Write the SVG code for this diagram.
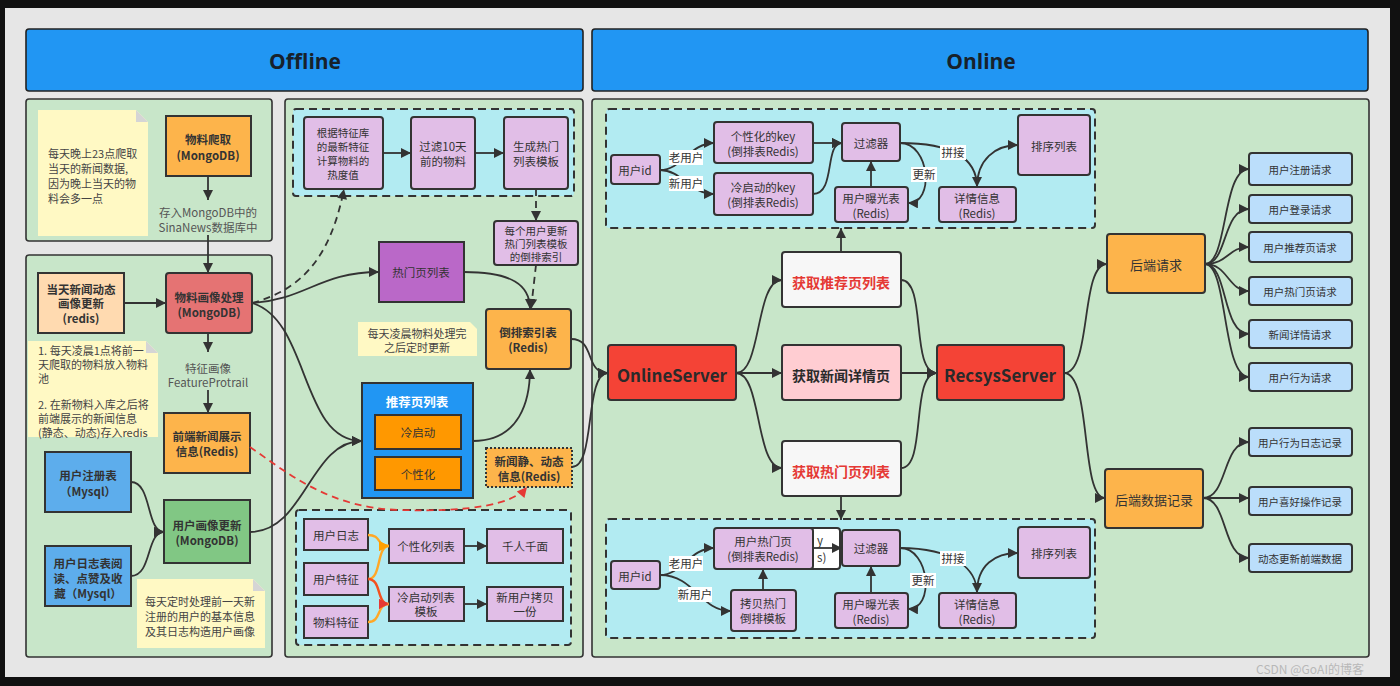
<svg xmlns="http://www.w3.org/2000/svg" width="1400" height="686" viewBox="0 0 1400 686">
<style>
text{font-family:"Noto Sans CJK SC","Liberation Sans",sans-serif;fill:#333;font-size:11.5px;text-anchor:middle;dominant-baseline:central}
.b{font-weight:bold}
.l{text-anchor:start}
.g{fill:#555}
.n{fill:#444;font-size:11px}
.panel{fill:#c8e6c9;stroke:#333;stroke-width:1.6}
.box{stroke:#333;stroke-width:2}
.or{fill:#fdb44b}
.pu{fill:#e1bee7}
.bl{fill:#bbdefb}
.dash{fill:#b2ebf2;stroke:#333;stroke-width:2;stroke-dasharray:8 5}
.note{fill:#fff9c4}
.fold{fill:#d5d5d5}
.c{fill:none;stroke:#333;stroke-width:1.8}
.d{stroke-dasharray:7 5}
.red{stroke:#e53935}
.org{stroke:#ffa726;stroke-width:2.4}
.rorg{stroke:#f4511e;stroke-width:2.4}
.lab{fill:#fff}
.s{font-size:10.5px}
</style>
<defs>
<marker id="a" viewBox="0 0 10 10" refX="10" refY="5" markerWidth="12" markerHeight="10" markerUnits="userSpaceOnUse" orient="auto"><path d="M0,0L10,5L0,10z" fill="#333"/></marker>
<marker id="ar" viewBox="0 0 10 10" refX="10" refY="5" markerWidth="12" markerHeight="10" markerUnits="userSpaceOnUse" orient="auto"><path d="M0,0L10,5L0,10z" fill="#e53935"/></marker>
<marker id="ao" viewBox="0 0 10 10" refX="10" refY="5" markerWidth="12" markerHeight="10" markerUnits="userSpaceOnUse" orient="auto"><path d="M0,0L10,5L0,10z" fill="#ffa000"/></marker>
</defs>
<rect width="1400" height="686" fill="#111"/>
<rect x="5" y="8" width="1385" height="669" fill="#e6e6e6"/>

<g id="headers">
<rect x="26" y="29" width="557" height="62" rx="3" fill="#2196f3" stroke="#222" stroke-width="1.6"/>
<text x="305" y="61" class="b" style="font-family:'Open Sans','Liberation Sans',sans-serif;font-size:21px;fill:#17212b">Offline</text>
<rect x="592" y="29" width="776" height="62" rx="3" fill="#2196f3" stroke="#222" stroke-width="1.6"/>
<text x="981" y="61" class="b" style="font-family:'Open Sans','Liberation Sans',sans-serif;font-size:21px;fill:#17212b">Online</text>
</g>

<g id="panels">
<rect class="panel" x="26" y="99" width="246" height="142" rx="3"/>
<rect class="panel" x="26" y="255" width="246" height="402" rx="3"/>
<rect class="panel" x="285" y="99" width="298" height="558" rx="3"/>
<rect class="panel" x="592" y="99" width="777" height="558" rx="3"/>
<rect class="dash" x="293" y="109" width="281" height="87" rx="3"/>
<rect class="dash" x="296" y="510" width="275" height="135" rx="3"/>
<rect class="dash" x="606" y="109" width="489" height="119" rx="3"/>
<rect class="dash" x="606" y="519" width="489" height="119" rx="3"/>
</g>

<g id="note1">
<path class="note" d="M38,110H136L148,122V236H38z"/>
<path class="fold" d="M136,110L148,122H136z"/>
<text class="n l" x="48" y="153">每天晚上23点爬取</text>
<text class="n l" x="48" y="168">当天的新闻数据,</text>
<text class="n l" x="48" y="183">因为晚上当天的物</text>
<text class="n l" x="48" y="198">料会多一点</text>
</g>
<g id="n-crawl"><rect class="box or" x="166" y="116" width="85" height="60"/><text class="b" x="208" y="139">物料爬取</text><text class="b" x="208" y="155">(MongoDB)</text></g>
<g id="t-store"><text class="g" x="208" y="212">存入MongoDB中的</text><text class="g" x="208" y="227">SinaNews数据库中</text></g>

<g id="n-daily"><rect class="box" fill="#ffdab0" x="38" y="273" width="86" height="60"/><text class="b" x="81" y="289">当天新闻动态</text><text class="b" x="81" y="303">画像更新</text><text class="b" x="81" y="318">(redis)</text></g>
<g id="n-proc"><rect class="box" fill="#e57373" x="166" y="273" width="86" height="60" rx="3"/><text class="b" x="209" y="297">物料画像处理</text><text class="b" x="209" y="312">(MongoDB)</text></g>
<g id="note2">
<path class="note" d="M28,341H146L158,353V437H28z"/>
<path class="fold" d="M146,341L158,353H146z"/>
<text class="n l" x="38" y="350">1. 每天凌晨1点将前一</text>
<text class="n l" x="38" y="364">天爬取的物料放入物料</text>
<text class="n l" x="38" y="378">池</text>
<text class="n l" x="38" y="404">2. 在新物料入库之后将</text>
<text class="n l" x="38" y="418">前端展示的新闻信息</text>
<text class="n l" x="38" y="432">(静态、动态)存入redis</text>
</g>
<g id="t-feat"><text class="g" x="208" y="368">特征画像</text><text class="g" x="208" y="382">FeatureProtrail</text></g>
<g id="n-front"><rect class="box or" x="164" y="413" width="86" height="60"/><text class="b" x="207" y="436">前端新闻展示</text><text class="b" x="207" y="451">信息(Redis)</text></g>
<g id="n-reg"><rect class="box" fill="#5dadec" x="45" y="452" width="86" height="60"/><text class="b" x="88" y="475">用户注册表</text><text class="b" x="88" y="491">（Mysql）</text></g>
<g id="n-log"><rect class="box" fill="#5dadec" x="45" y="546" width="86" height="60"/><text class="b" x="88" y="563">用户日志表阅</text><text class="b" x="88" y="578">读、点赞及收</text><text class="b" x="88" y="593">藏（Mysql）</text></g>
<g id="n-user"><rect class="box" fill="#81c784" x="164" y="500" width="86" height="63"/><text class="b" x="207" y="525">用户画像更新</text><text class="b" x="207" y="540">(MongoDB)</text></g>
<g id="note3">
<path class="note" d="M137,579H253L265,591V648H137z"/>
<path class="fold" d="M253,579L265,591H253z"/>
<text class="n l" x="145" y="601">每天定时处理前一天新</text>
<text class="n l" x="145" y="616">注册的用户的基本信息</text>
<text class="n l" x="145" y="631">及其日志构造用户画像</text>
</g>

<g id="n-heat"><rect class="box pu" x="304" y="117" width="79" height="72" rx="3"/><text class="s" x="343" y="132">根据特征库</text><text class="s" x="343" y="146">的最新特征</text><text class="s" x="343" y="160">计算物料的</text><text class="s" x="343" y="174">热度值</text></g>
<g id="n-filter10"><rect class="box pu" x="411" y="117" width="64" height="72" rx="3"/><text x="443" y="146">过滤10天</text><text x="443" y="161">前的物料</text></g>
<g id="n-gen"><rect class="box pu" x="504" y="117" width="64" height="72" rx="3"/><text x="536" y="146">生成热门</text><text x="536" y="161">列表模板</text></g>
<g id="n-inv"><rect class="box pu" x="494" y="221" width="84" height="44" rx="3"/><text class="s" x="536" y="230">每个用户更新</text><text class="s" x="536" y="243">热门列表模板</text><text class="s" x="536" y="256">的倒排索引</text></g>
<g id="n-hot"><rect class="box" fill="#ba68c8" x="379" y="242" width="85" height="60"/><text x="421" y="272">热门页列表</text></g>
<g id="note4"><path class="note" d="M358,322H470L477,329V356H358z"/><text class="n" x="417" y="333">每天凌晨物料处理完</text><text class="n" x="417" y="347">之后定时更新</text></g>
<g id="n-index"><rect class="box or" x="486" y="309" width="85" height="60" rx="3"/><text class="b" x="528" y="332">倒排索引表</text><text class="b" x="528" y="347">(Redis)</text></g>
<g id="n-rec"><rect class="box" fill="#2196f3" x="362" y="383" width="111" height="115"/><text class="b" x="417" y="401" style="fill:#fff;font-size:12.5px">推荐页列表</text>
<rect class="box" fill="#ff9800" x="375" y="415" width="86" height="34"/><text x="418" y="432">冷启动</text>
<rect class="box" fill="#ff9800" x="375" y="457" width="86" height="33"/><text x="418" y="474">个性化</text></g>
<g id="n-news"><rect fill="#fdb44b" stroke="#333" stroke-width="2" stroke-dasharray="2 2" x="486" y="448" width="86" height="39"/><text class="b" x="529" y="461">新闻静、动态</text><text class="b" x="529" y="476">信息(Redis)</text></g>
<g id="n-ulog"><rect class="box pu" x="304" y="519" width="64" height="31"/><text x="336" y="535">用户日志</text></g>
<g id="n-ufeat"><rect class="box pu" x="304" y="563" width="64" height="32"/><text x="336" y="579">用户特征</text></g>
<g id="n-ifeat"><rect class="box pu" x="304" y="606" width="64" height="32"/><text x="336" y="622">物料特征</text></g>
<g id="n-plist"><rect class="box pu" x="389" y="529" width="75" height="34"/><text x="426" y="546">个性化列表</text></g>
<g id="n-qr"><rect class="box pu" x="487" y="529" width="76" height="34"/><text x="525" y="546">千人千面</text></g>
<g id="n-clist"><rect class="box pu" x="389" y="587" width="75" height="34"/><text x="426" y="597">冷启动列表</text><text x="426" y="611">模板</text></g>
<g id="n-copy"><rect class="box pu" x="487" y="587" width="76" height="34"/><text x="525" y="597">新用户拷贝</text><text x="525" y="611">一份</text></g>

<g id="n-uid1"><rect class="box pu" x="611" y="155" width="49" height="29" rx="3"/><text x="635" y="170">用户id</text></g>
<g id="n-pkey"><rect class="box pu" x="714" y="122" width="99" height="41" rx="3"/><text x="763" y="136">个性化的key</text><text x="763" y="151">(倒排表Redis)</text></g>
<g id="n-ckey"><rect class="box pu" x="714" y="173" width="99" height="42" rx="3"/><text x="763" y="187">冷启动的key</text><text x="763" y="202">(倒排表Redis)</text></g>
<g id="n-flt1"><rect class="box pu" x="842" y="123" width="58" height="38" rx="3"/><text x="871" y="143">过滤器</text></g>
<g id="n-exp1"><rect class="box pu" x="835" y="187" width="73" height="35" rx="3"/><text x="871" y="198">用户曝光表</text><text x="871" y="213">(Redis)</text></g>
<g id="n-det1"><rect class="box pu" x="939" y="187" width="77" height="35" rx="3"/><text x="977" y="198">详情信息</text><text x="977" y="213">(Redis)</text></g>
<g id="n-sort1"><rect class="box pu" x="1018" y="115" width="72" height="60" rx="3"/><text x="1054" y="146">排序列表</text></g>

<g id="n-online"><rect class="box" fill="#f44336" x="608" y="345" width="128" height="55" rx="3"/><text class="b" x="672" y="374" style="font-size:17px;fill:#2a2a2a">OnlineServer</text></g>
<g id="n-getrec"><rect class="box" fill="#f7f7f7" x="782" y="252" width="119" height="55" rx="3"/><text class="b" x="841" y="282" style="font-size:14px;fill:#e53935">获取推荐页列表</text></g>
<g id="n-getdet"><rect class="box" fill="#ffcdd2" x="782" y="345" width="119" height="55" rx="3"/><text class="b" x="841" y="375" style="font-size:14px;fill:#2a2a2a">获取新闻详情页</text></g>
<g id="n-gethot"><rect class="box" fill="#f7f7f7" x="782" y="441" width="119" height="55" rx="3"/><text class="b" x="841" y="471" style="font-size:14px;fill:#e53935">获取热门页列表</text></g>
<g id="n-recsys"><rect class="box" fill="#f44336" x="937" y="345" width="127" height="55" rx="3"/><text class="b" x="1000" y="374" style="font-size:17px;fill:#2a2a2a">RecsysServer</text></g>

<g id="n-uid2"><rect class="box pu" x="611" y="561" width="49" height="28" rx="3"/><text x="635" y="576">用户id</text></g>
<g id="n-ghost"><rect class="box" fill="#fff" x="745" y="528" width="95" height="41" rx="3"/><text class="l" x="817" y="540">y</text><text class="l" x="817" y="557">s)</text></g>
<g id="n-uhot"><rect class="box pu" x="714" y="528" width="99" height="41" rx="3"/><text x="763" y="541">用户热门页</text><text x="763" y="556">(倒排表Redis)</text></g>
<g id="n-copyhot"><rect class="box pu" x="731" y="590" width="65" height="41" rx="3"/><text x="763" y="603">拷贝热门</text><text x="763" y="618">倒排模板</text></g>
<g id="n-flt2"><rect class="box pu" x="842" y="530" width="58" height="36" rx="3"/><text x="871" y="548">过滤器</text></g>
<g id="n-exp2"><rect class="box pu" x="835" y="593" width="73" height="35" rx="3"/><text x="871" y="604">用户曝光表</text><text x="871" y="619">(Redis)</text></g>
<g id="n-det2"><rect class="box pu" x="939" y="593" width="77" height="35" rx="3"/><text x="977" y="604">详情信息</text><text x="977" y="619">(Redis)</text></g>
<g id="n-sort2"><rect class="box pu" x="1018" y="527" width="72" height="51" rx="3"/><text x="1054" y="553">排序列表</text></g>

<g id="n-backreq"><rect class="box or" x="1107" y="234" width="98" height="59" rx="3"/><text x="1156" y="264" style="font-size:13px">后端请求</text></g>
<g id="n-backrec"><rect class="box or" x="1105" y="469" width="98" height="59" rx="3"/><text x="1154" y="499" style="font-size:13px">后端数据记录</text></g>
<g id="right-boxes">
<g id="r1"><rect class="box bl" x="1249" y="153" width="103" height="32" rx="3"/><text class="s" x="1300" y="169">用户注册请求</text></g>
<g id="r2"><rect class="box bl" x="1249" y="195" width="103" height="28" rx="3"/><text class="s" x="1300" y="209">用户登录请求</text></g>
<g id="r3"><rect class="box bl" x="1249" y="232" width="103" height="30" rx="3"/><text class="s" x="1300" y="247">用户推荐页请求</text></g>
<g id="r4"><rect class="box bl" x="1249" y="277" width="103" height="28" rx="3"/><text class="s" x="1300" y="291">用户热门页请求</text></g>
<g id="r5"><rect class="box bl" x="1249" y="320" width="103" height="28" rx="3"/><text class="s" x="1300" y="334">新闻详情请求</text></g>
<g id="r6"><rect class="box bl" x="1249" y="363" width="103" height="28" rx="3"/><text class="s" x="1300" y="377">用户行为请求</text></g>
<g id="r7"><rect class="box bl" x="1249" y="428" width="103" height="28" rx="3"/><text class="s" x="1300" y="442">用户行为日志记录</text></g>
<g id="r8"><rect class="box bl" x="1249" y="487" width="103" height="28" rx="3"/><text class="s" x="1300" y="501">用户喜好操作记录</text></g>
<g id="r9"><rect class="box bl" x="1249" y="544" width="103" height="28" rx="3"/><text class="s" x="1300" y="558">动态更新前端数据</text></g>
</g>

<g id="connectors">
<path class="c" d="M208,176V200" marker-end="url(#a)"/>
<path class="c" d="M208,235V273" marker-end="url(#a)"/>
<path class="c" d="M124,303H166" marker-end="url(#a)"/>
<path class="c" d="M208,333V352" marker-end="url(#a)"/>
<path class="c" d="M208,390V413" marker-end="url(#a)"/>
<path class="c" d="M131,482C152,482 146,532 164,532" marker-end="url(#a)"/>
<path class="c" d="M131,576C152,576 146,532 164,532" marker-end="url(#a)"/>
<path class="c" d="M252,303C305,300 320,272 379,272" marker-end="url(#a)"/>
<path class="c d" d="M252,303C300,290 330,260 344,189" marker-end="url(#a)"/>
<path class="c" d="M252,303C310,320 300,441 362,441" marker-end="url(#a)"/>
<path class="c" d="M250,532C305,532 310,441 362,441" marker-end="url(#a)"/>
<path class="c" d="M464,272C512,272 530,285 530,309" marker-end="url(#a)"/>
<path class="c" d="M473,441C520,441 530,400 530,369" marker-end="url(#a)"/>
<path class="c d" d="M536,189V221" marker-end="url(#a)"/>
<path class="c d" d="M536,265L531,309" marker-end="url(#a)"/>
<path class="c d red" d="M250,447C290,475 330,508 400,510C470,512 512,505 527,487" marker-end="url(#ar)"/>
<path class="c" d="M571,339C596,339 584,373 608,373" marker-end="url(#a)"/>
<path class="c" d="M572,467C596,467 584,373 608,373" marker-end="url(#a)"/>
<path class="c" d="M383,153H411" marker-end="url(#a)"/>
<path class="c" d="M475,153H504" marker-end="url(#a)"/>
<path class="c org" d="M368,535C382,535 376,546 389,546" marker-end="url(#ao)"/>
<path class="c org" d="M368,579C382,579 376,546 389,546" marker-end="url(#ao)"/>
<path class="c rorg" d="M368,579C382,579 376,604 389,604" marker-end="url(#ar)"/>
<path class="c org" d="M368,622C382,622 376,604 389,604" marker-end="url(#ar)"/>
<path class="c" d="M464,546H487" marker-end="url(#a)"/>
<path class="c" d="M464,604H487" marker-end="url(#a)"/>

<path class="c" d="M660,170C682,170 690,143 714,143" marker-end="url(#a)"/>
<path class="c" d="M660,170C682,170 690,194 714,194" marker-end="url(#a)"/>
<path class="c" d="M813,143H842" marker-end="url(#a)"/>
<path class="c" d="M813,194C836,194 824,143 842,143" marker-end="url(#a)"/>
<path class="c" d="M871,187V161" marker-end="url(#a)"/>
<path class="c" d="M900,143C930,143 935,204 908,203" marker-end="url(#a)"/>
<path class="c" d="M900,143C955,143 977,160 977,187" marker-end="url(#a)"/>
<path class="c" d="M977,187C977,160 995,145 1018,145" marker-end="url(#a)"/>
<path class="c" d="M841,252V228" marker-end="url(#a)"/>

<path class="c" d="M736,373C762,373 755,280 782,280" marker-end="url(#a)"/>
<path class="c" d="M736,373H782" marker-end="url(#a)"/>
<path class="c" d="M736,373C762,373 755,468 782,468" marker-end="url(#a)"/>
<path class="c" d="M901,280C927,280 910,373 937,373" marker-end="url(#a)"/>
<path class="c" d="M901,373H937" marker-end="url(#a)"/>
<path class="c" d="M901,468C927,468 910,373 937,373" marker-end="url(#a)"/>
<path class="c" d="M841,496V520" marker-end="url(#a)"/>
<path class="c" d="M1064,373C1092,373 1080,264 1107,264" marker-end="url(#a)"/>
<path class="c" d="M1064,373C1092,373 1080,498 1105,498" marker-end="url(#a)"/>

<path class="c" d="M1205,264C1228,264 1222,169 1249,169" marker-end="url(#a)"/>
<path class="c" d="M1205,264C1228,264 1222,209 1249,209" marker-end="url(#a)"/>
<path class="c" d="M1205,264C1228,264 1228,247 1249,247" marker-end="url(#a)"/>
<path class="c" d="M1205,264C1228,264 1228,291 1249,291" marker-end="url(#a)"/>
<path class="c" d="M1205,264C1228,264 1222,334 1249,334" marker-end="url(#a)"/>
<path class="c" d="M1205,264C1228,264 1222,377 1249,377" marker-end="url(#a)"/>
<path class="c" d="M1203,498C1228,498 1222,442 1249,442" marker-end="url(#a)"/>
<path class="c" d="M1203,498H1249" marker-end="url(#a)"/>
<path class="c" d="M1203,498C1228,498 1222,558 1249,558" marker-end="url(#a)"/>

<path class="c" d="M660,575C682,575 690,548 714,548" marker-end="url(#a)"/>
<path class="c" d="M660,575C695,575 700,611 731,611" marker-end="url(#a)"/>
<path class="c" d="M763,590V569" marker-end="url(#a)"/>
<path class="c" d="M813,548H842" marker-end="url(#a)"/>
<path class="c" d="M871,593V566" marker-end="url(#a)"/>
<path class="c" d="M900,548C930,548 935,610 908,609" marker-end="url(#a)"/>
<path class="c" d="M900,548C955,548 977,570 977,593" marker-end="url(#a)"/>
<path class="c" d="M977,593C977,565 995,553 1018,553" marker-end="url(#a)"/>
</g>

<g id="labels">
<rect class="lab" x="669" y="150" width="34" height="15"/><text x="686" y="157">老用户</text>
<rect class="lab" x="669" y="176" width="34" height="15"/><text x="686" y="183">新用户</text>
<rect class="lab" x="940" y="145" width="26" height="15"/><text x="953" y="152">拼接</text>
<rect class="lab" x="911" y="167" width="26" height="15"/><text x="924" y="174">更新</text>
<rect class="lab" x="669" y="556" width="34" height="15"/><text x="686" y="563">老用户</text>
<rect class="lab" x="678" y="587" width="34" height="15"/><text x="695" y="594">新用户</text>
<rect class="lab" x="940" y="551" width="26" height="15"/><text x="953" y="558">拼接</text>
<rect class="lab" x="910" y="573" width="26" height="15"/><text x="923" y="580">更新</text>
</g>
<text x="1310" y="668" style="font-size:12px;fill:#b8b8b8">CSDN @GoAI的博客</text>
</svg>
